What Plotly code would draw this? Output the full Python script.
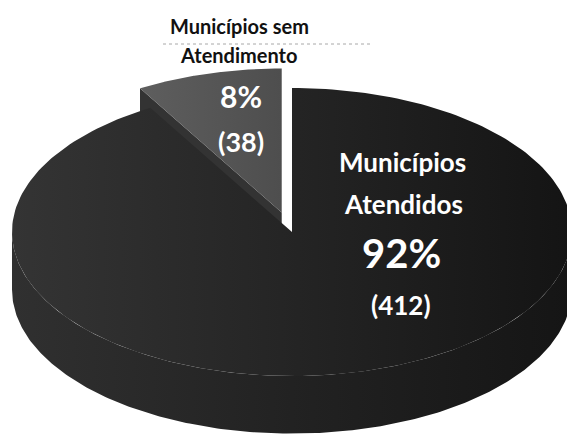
import numpy as np
import plotly.graph_objects as go

# Distribution of municipalities by service coverage
labels = ["Municípios Atendidos", "Municípios sem Atendimento"]
values = [412, 38]
explode = [0.0, 0.14]

# top-face shading per slice and side colours
top_gradients = [
    [[0, "#343434"], [0.45, "#262626"], [1, "#141414"]],
    [[0, "#5e5e5e"], [1, "#4e4e4e"]],
]
wall_gradient = [[0, "#303030"], [0.5, "#222222"], [1, "#151515"]]
cut_face_color = "#333333"

# 3-D pie geometry (unit circle seen from above; depth in y units)
depth = 0.40
n_pts = 240

total = float(sum(values))
fracs = [v / total for v in values]
bounds = np.concatenate([[0.0], np.cumsum(fracs) * 360.0])


def ring(theta_deg, r=1.0):
    t = np.radians(theta_deg)
    return r * np.sin(t), r * np.cos(t)


def slice_offset(i):
    mid = np.radians((bounds[i] + bounds[i + 1]) / 2.0)
    return explode[i] * np.sin(mid), explode[i] * np.cos(mid)


fig = go.Figure()

# back slice first: its visible radial cut face, then its top face
for i in [1, 0]:
    th0, th1 = bounds[i], bounds[i + 1]
    ox, oy = slice_offset(i)
    arc = np.linspace(th0, th1, n_pts)
    ax_, ay_ = ring(arc)

    if i == 1:
        # radial face at the start of the slice (faces front-left)
        ex, ey = ring(th0)
        fx = [ox, ox + ex, ox + ex, ox, ox]
        fy = [oy, oy + ey, oy + ey - depth, oy - depth, oy]
        fig.add_trace(go.Scatter(x=fx, y=fy, fill="toself", mode="lines",
                                 line=dict(width=0), fillcolor=cut_face_color,
                                 hoverinfo="skip", showlegend=False))
    else:
        # outer side wall on the front half of the pie
        lo, hi = max(th0, 90.0), min(th1, 270.0)
        warc = np.linspace(lo, hi, n_pts)
        wx, wy = ring(warc)
        sx = np.concatenate([wx, wx[::-1]]) + ox
        sy = np.concatenate([wy, (wy - depth)[::-1]]) + oy
        fig.add_trace(go.Scatter(x=sx, y=sy, fill="toself", mode="lines",
                                 line=dict(width=0), fillcolor="#1e1e1e",
                                 fillgradient=dict(type="horizontal",
                                                   colorscale=wall_gradient),
                                 hoverinfo="skip", showlegend=False))

    tx = np.concatenate([[0.0], ax_, [0.0]]) + ox
    ty = np.concatenate([[0.0], ay_, [0.0]]) + oy
    fig.add_trace(go.Scatter(x=tx, y=ty, fill="toself", mode="lines",
                             line=dict(width=0), fillcolor="#222222",
                             fillgradient=dict(type="horizontal",
                                               colorscale=top_gradients[i]),
                             name=labels[i], hoverinfo="name",
                             showlegend=False))

# labels built from the values
pcts = [round(f * 100) for f in fracs]
W, H = 567, 436


def px(x, y):
    return dict(x=x / W, y=1 - y / H, xref="paper", yref="paper",
                xanchor="center", yanchor="middle", showarrow=False)


font_family = "Lato, 'Open Sans', sans-serif"
ann = [
    dict(text="<b>Municípios sem</b>", font=dict(size=20, color="#111111", family=font_family), **px(239, 26)),
    dict(text="<b>Atendimento</b>", font=dict(size=20, color="#111111", family=font_family), **px(238, 55)),
    dict(text=f"<b>{pcts[1]}%</b>", font=dict(size=30, color="white", family=font_family), **px(241, 96)),
    dict(text=f"<b>({values[1]})</b>", font=dict(size=27, color="white", family=font_family), **px(241, 141)),
    dict(text="<b>Municípios</b>", font=dict(size=26, color="white", family=font_family), **px(402, 162)),
    dict(text="<b>Atendidos</b>", font=dict(size=26, color="white", family=font_family), **px(403, 204)),
    dict(text=f"<b>{pcts[0]}%</b>", font=dict(size=40, color="white", family=font_family), **px(401, 253)),
    dict(text=f"<b>({values[0]})</b>", font=dict(size=26, color="white", family=font_family), **px(401, 305)),
]

fig.update_layout(
    width=W, height=H,
    margin=dict(l=0, r=0, t=0, b=0),
    paper_bgcolor="white", plot_bgcolor="white",
    xaxis=dict(range=[-292 / 280, 275 / 280], visible=False, fixedrange=True),
    yaxis=dict(range=[-204 / 144, 232 / 144], visible=False, fixedrange=True),
    annotations=ann,
    shapes=[dict(type="line", xref="paper", yref="paper",
                 x0=163 / W, x1=370 / W, y0=1 - 44 / H, y1=1 - 44 / H,
                 line=dict(color="#a8a8a8", width=1, dash="dot"))],
    showlegend=False,
)

fig.write_html("out.html")
